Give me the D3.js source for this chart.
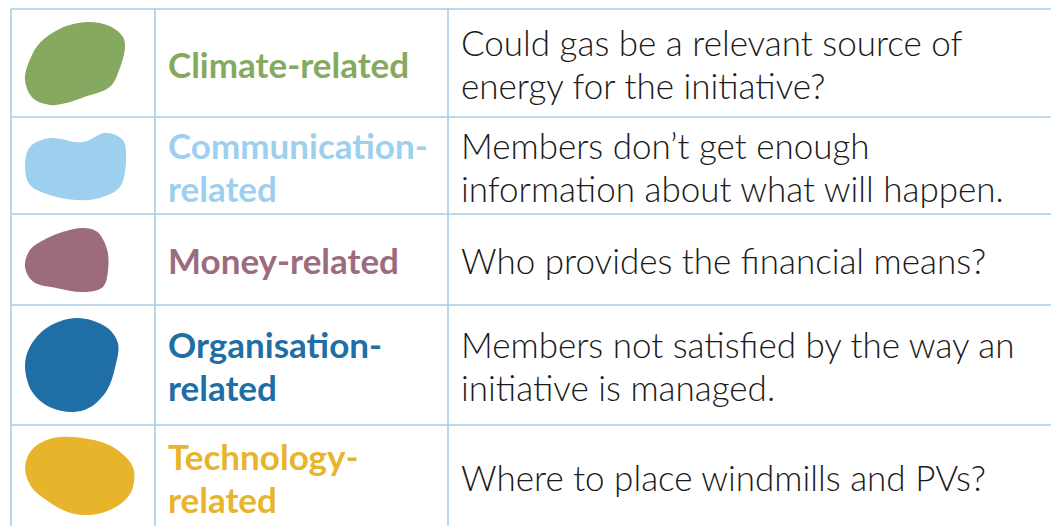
<!DOCTYPE html>
<html>
<head>
<meta charset="utf-8">
<script src="https://cdn.jsdelivr.net/npm/d3@7"></script>
<style>
  html, body { margin: 0; padding: 0; background: #ffffff; }
  svg { display: block; }
</style>
</head>
<body>
<svg id="chart" width="1051" height="526"></svg>
<script>
// ---------- data ----------
const categories = ["Climate", "Communication", "Money", "Organisation", "Technology"];
const labelLines = [
  ["Climate-related"],
  ["Communication-", "related"],
  ["Money-related"],
  ["Organisation-", "related"],
  ["Technology-", "related"]
];
const descriptions = [
  ["Could gas be a relevant source of", "energy for the initiative?"],
  ["Members don\u2019t get enough", "information about what will happen."],
  ["Who provides the financial means?"],
  ["Members not satisfied by the way an", "initiative is managed."],
  ["Where to place windmills and PVs?"]
];
const colors = ["#86a960", "#9dd0ee", "#9c6c7e", "#1f6ea6", "#e7b42c"];

// ---------- layout / style ----------
const W = 1051, H = 526;
const colEdges = [11, 155, 448];
const rowEdges = [9, 117, 214, 305, 425, 528];
const gridColor = "#a9cde5";
const labelSize = 35, descSize = 35, lineH = 43;

// blob outlines in a unit box, and the box inside the swatch cell
const blobShapes = [
  [[0.62,0],[0.85,0.05],[0.98,0.18],[1.0,0.3],[0.95,0.55],[0.85,0.78],[0.6,0.9],[0.4,0.98],[0.25,1.0],[0.08,0.92],[0,0.7],[0.05,0.45],[0.15,0.25],[0.35,0.08]],
  [[0.05,0.22],[0.25,0.09],[0.51,0.15],[0.6,0.14],[0.8,0.01],[0.97,0.12],[1.0,0.41],[0.94,0.81],[0.74,0.97],[0.51,1.0],[0.25,0.93],[0.05,0.78],[0,0.51]],
  [[0.7,0],[0.87,0.06],[0.99,0.34],[1.0,0.66],[0.94,0.92],[0.7,1.0],[0.39,0.94],[0.1,0.84],[0,0.61],[0.06,0.34],[0.22,0.19],[0.46,0.06]],
  [[0.56,0],[0.88,0.1],[1.0,0.27],[0.97,0.52],[0.88,0.77],[0.7,0.95],[0.52,1.0],[0.27,0.95],[0.08,0.79],[0,0.52],[0.05,0.31],[0.24,0.1]],
  [[0.27,0],[0.58,0.01],[0.82,0.12],[1.0,0.38],[0.99,0.68],[0.9,0.84],[0.72,0.97],[0.55,1.0],[0.4,0.96],[0.22,0.82],[0.07,0.64],[0.01,0.38],[0.08,0.14]]
];
const blobBoxes = [ // [x0, x1, top offset, bottom offset] relative to row
  [25, 125, 13, 12],
  [25, 126, 15, 14],
  [25, 108, 14, 13],
  [25, 118, 13, 13],
  [24, 133, 13, 13]
];

const svg = d3.select("#chart");

const rowScale = d3.scaleOrdinal().domain(categories).range(d3.range(categories.length));
const rowTop = c => rowEdges[rowScale(c)];
const rowBot = c => rowEdges[rowScale(c) + 1];

// blobs
const blobG = svg.append("g");
categories.forEach((c, i) => {
  const b = blobBoxes[i];
  const x = d3.scaleLinear().domain([0, 1]).range([b[0], b[1]]);
  const y = d3.scaleLinear().domain([0, 1]).range([rowTop(c) + b[2], rowBot(c) - b[3]]);
  const line = d3.line().x(d => x(d[0])).y(d => y(d[1])).curve(d3.curveCatmullRomClosed.alpha(0.5));
  blobG.append("path")
    .attr("d", line(blobShapes[i]))
    .attr("fill", colors[i]);
});

// grid lines
const grid = svg.append("g").attr("stroke", gridColor).attr("stroke-width", 1.6);
grid.selectAll("line.h").data(rowEdges.slice(0, 5)).join("line")
  .attr("x1", colEdges[0]).attr("x2", W).attr("y1", d => d).attr("y2", d => d);
grid.selectAll("line.v").data(colEdges).join("line")
  .attr("x1", d => d).attr("x2", d => d).attr("y1", rowEdges[0]).attr("y2", H);

// text blocks
function block(g, lines, cx, cy, size, weight, fill) {
  const n = lines.length;
  const t = g.append("text")
    .attr("font-family", "Lato, 'Open Sans', sans-serif")
    .attr("font-size", size)
    .attr("font-weight", weight)
    .attr("fill", fill);
  lines.forEach((s, k) => {
    t.append("tspan")
      .attr("x", cx)
      .attr("y", cy + (k - (n - 1) / 2) * lineH + size * 0.36 + 2)
      .text(s);
  });
}

const textG = svg.append("g");
categories.forEach((c, i) => {
  const cy = (rowTop(c) + rowBot(c)) / 2;
  block(textG, labelLines[i], colEdges[1] + 13, cy, labelSize, 700, colors[i]);
  block(textG, descriptions[i], colEdges[2] + 13, cy, descSize, 300, "#1a1a1a");
});
</script>
</body>
</html>
